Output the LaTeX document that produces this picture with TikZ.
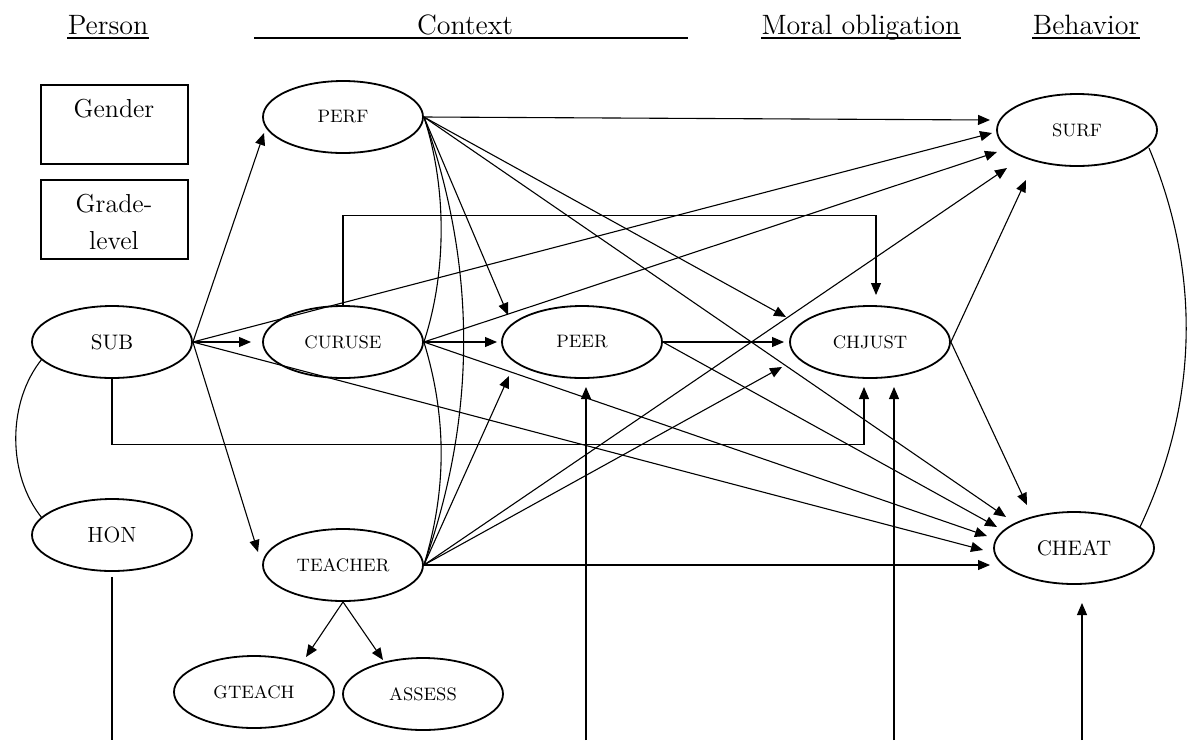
\documentclass[tikz,border=0pt]{standalone}
\usetikzlibrary{shapes.geometric,arrows.meta,calc}
\begin{document}
\begin{tikzpicture}[x=0.5pt,y=-0.5pt,
  var/.style={ellipse,draw,line width=0.9pt,minimum width=80pt,minimum height=36pt,inner sep=0pt,font=\fontsize{9}{11}\selectfont},
  big/.style={font=\fontsize{10.5}{12}\selectfont},
  arr/.style={line width=0.55pt,-{Triangle[length=6pt,width=5pt]}},
  link/.style={line width=0.55pt},
  head/.style={font=\fontsize{14}{17}\selectfont,anchor=base,inner sep=0pt},
  box/.style={draw,line width=0.6pt,minimum width=73.5pt,minimum height=39.5pt,inner sep=0pt},
  boxtext/.style={font=\fontsize{13}{18.5}\selectfont,align=center,inner sep=0pt}]
\useasboundingbox (0,0) rectangle (1188,740);

% column headings
\node[head] (hperson) at (108,34) {Person};
\node[head] (hcontext) at (465,34) {Context};
\node[head] (hmoral) at (861,34) {Moral obligation};
\node[head] (hbehav) at (1086,34) {Behavior};
\draw[link] ($(hperson.base west)+(0,4)$) -- ($(hperson.base east)+(0,4)$);
\draw[link] ($(hcontext.base)+(-211,4)$) -- ($(hcontext.base)+(223,4)$);
\draw[link] ($(hmoral.base west)+(0,4)$) -- ($(hmoral.base east)+(0,4)$);
\draw[link] ($(hbehav.base west)+(0,4)$) -- ($(hbehav.base east)+(0,4)$);

% person boxes
\node[box] (gender) at (114.5,124.5) {};
\node[boxtext,anchor=base] (gendertxt) at (114,117) {Gender};
\node[box] (grade) at (114.5,219.5) {};
\node[boxtext] (gradetxt) at (114,222) {Grade-\\level};

% latent variables
\node[var] (perf) at (343,117) {PERF};
\node[var] (surf) at (1077,130) {SURF};
\node[var,big] (sub) at (112,342) {SUB};
\node[var] (curuse) at (343,342) {CURUSE};
\node[var] (peer) at (582,342) {PEER};
\node[var] (chjust) at (870,342) {CHJUST};
\node[var,font=\fontsize{11}{13}\selectfont] (hon) at (112,535) {HON};
\node[var] (teacher) at (343,565) {TEACHER};
\node[var,big] (cheat) at (1074,548) {CHEAT};
\node[var] (gteach) at (254,692) {GTEACH};
\node[var] (assess) at (423,694) {ASSESS};

% free ends at the bottom edge
\coordinate (honend) at (112,740);
\coordinate (peerin) at (586,740);
\coordinate (chjustin) at (894,740);
\coordinate (cheatin) at (1082,740);

% paths from SUB
\draw[arr] (sub.east) -- ($(perf)+(-79,16)$);
\draw[arr] (sub.east) -- ($(curuse)+(-92,0)$);
\draw[arr] (sub.east) -- ($(teacher)+(-85,-13)$);
\draw[arr] (sub.east) -- ($(surf)+(-85,3)$);
\draw[arr] (sub.east) -- ($(cheat)+(-91,2)$);
\draw[arr] (sub.south) -- ++(0,66) -| ($(chjust)+(-6,45)$);

% paths from PERF
\draw[arr] (perf.east) -- ($(surf)+(-87,-10)$);
\draw[arr] (perf.east) -- ($(peer)+(-74,-27)$);
\draw[arr] (perf.east) -- ($(chjust)+(-84,-25)$);
\draw[arr] (perf.east) -- ($(cheat)+(-68,-31)$);

% paths from CURUSE
\draw[arr] (curuse.east) -- ($(peer)+(-85,0)$);
\draw[arr] (curuse.east) -- ($(surf)+(-80,22)$);
\draw[arr] (curuse.east) -- ($(cheat)+(-87,-12)$);
\draw[arr] (curuse.north) -- ++(0,-90) -| ($(chjust)+(6,-47)$);

% paths from TEACHER
\draw[arr] (teacher.east) -- ($(peer)+(-73,34)$);
\draw[arr] (teacher.east) -- ($(chjust)+(-88,25)$);
\draw[arr] (teacher.east) -- ($(surf)+(-70,38)$);
\draw[arr] (teacher.east) -- ($(cheat)+(-84,17)$);
\draw[arr] (teacher.south) -- ($(gteach)+(52,-35)$);
\draw[arr] (teacher.south) -- ($(assess)+(-40,-34)$);

% paths from PEER and CHJUST
\draw[arr] (peer.east) -- ($(chjust)+(-86,0)$);
\draw[arr] (peer.east) -- ($(cheat)+(-77,-21)$);
\draw[arr] (chjust.east) -- ($(surf)+(-51,50)$);
\draw[arr] (chjust.east) -- ($(cheat)+(-47,-43)$);

% lines entering from below
\draw[link] ($(hon.south)+(0,5)$) -- (honend);
\draw[arr] (peerin) -- ($(peer)+(4,45)$);
\draw[arr] (chjustin) -- ($(chjust)+(24,45)$);
\draw[arr] (cheatin) -- ($(cheat)+(8,55)$);

% correlations
\draw[link] (perf.east) .. controls ($(perf.east)+(23,70)$) and ($(curuse.east)+(23,-70)$) .. (curuse.east);
\draw[link] (curuse.east) .. controls ($(curuse.east)+(23,75)$) and ($(teacher.east)+(23,-75)$) .. (teacher.east);
\draw[link] (perf.east) .. controls ($(perf.east)+(53,150)$) and ($(teacher.east)+(53,-150)$) .. (teacher.east);
\draw[link] ($(sub)+(-70,17)$) .. controls ($(sub)+(-105,60)$) and ($(hon)+(-105,-60)$) .. ($(hon)+(-70,-17)$);
\draw[link] ($(surf)+(72,18)$) .. controls ($(surf)+(123,140)$) and ($(cheat)+(126,-148)$) .. ($(cheat)+(66,-21)$);
\end{tikzpicture}
\end{document}
